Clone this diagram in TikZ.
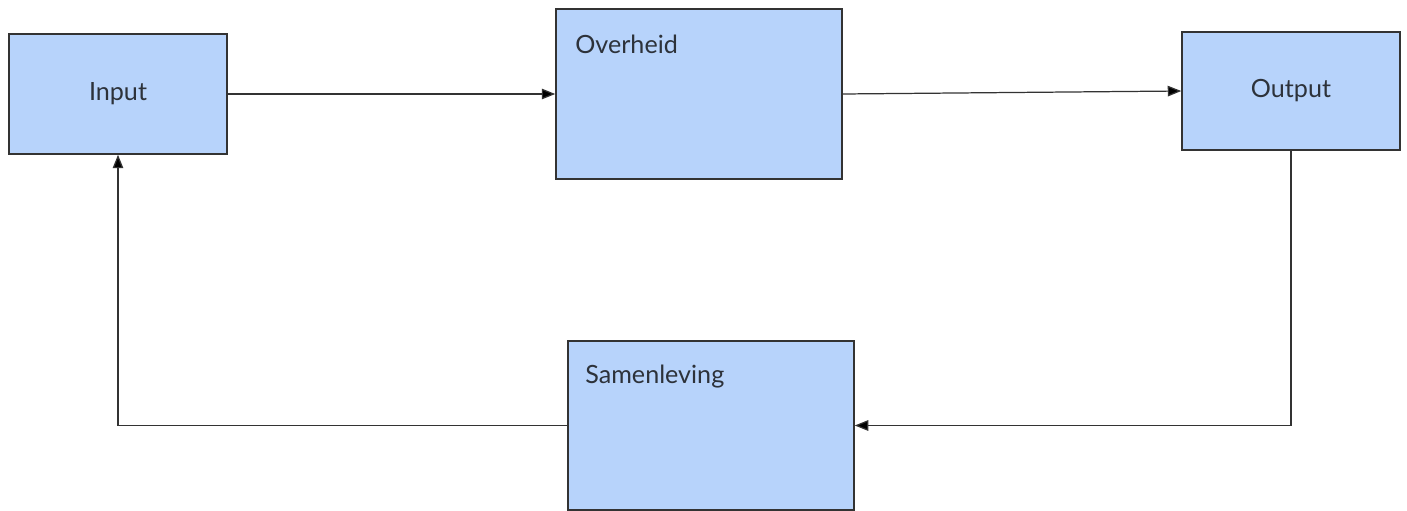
\documentclass[tikz,border=0pt]{standalone}
\usepackage{fontspec}
\setmainfont{Lato}
\usepackage{tikz}
\usetikzlibrary{arrows.meta}
\definecolor{blokblauw}{RGB}{183,211,251}
\definecolor{tekstgrijs}{RGB}{45,50,58}
\tikzset{
   blok/.style={draw=black!80, line width=0.85pt, fill=blokblauw,
      inner sep=0pt, text=tekstgrijs, font=\fontsize{14.3}{17}\selectfont},
   tekst/.style={anchor=base west, inner sep=0pt, text=tekstgrijs,
      font=\fontsize{14.3}{17}\selectfont},
   pijl/.style={draw=black!80, line width=0.7pt,
      -{Triangle[length=0.27cm, width=0.21cm, fill=black]}},
    }
\begin{document}
\begin{tikzpicture}[scale=1]
       \useasboundingbox (0,0) rectangle (28.14,-10.22);
       \node[blok, minimum width=4.36cm, minimum height=2.4cm] (input) at (2.36,-1.88) {Input};
       \node[blok, minimum width=5.72cm, minimum height=3.4cm] (overheid) at (13.98,-1.88) {};
       \node[blok, minimum width=4.36cm, minimum height=2.36cm] (output) at (25.82,-1.82) {Output};
       \node[blok, minimum width=5.72cm, minimum height=3.38cm] (samenleving) at (14.22,-8.51) {};
       \node[tekst] (overheidtxt) at (11.5,-1.08) {Overheid};
       \node[tekst] (samenlevingtxt) at (11.7,-7.66) {Samenleving};
       \draw[pijl](input.east)to(overheid.west);
       \draw[pijl](overheid.east)to(output.west);
       \draw[pijl](output.south)|-(samenleving.east);
       \draw[pijl](samenleving.west)-|(input.south);
   \end{tikzpicture}
\end{document}
